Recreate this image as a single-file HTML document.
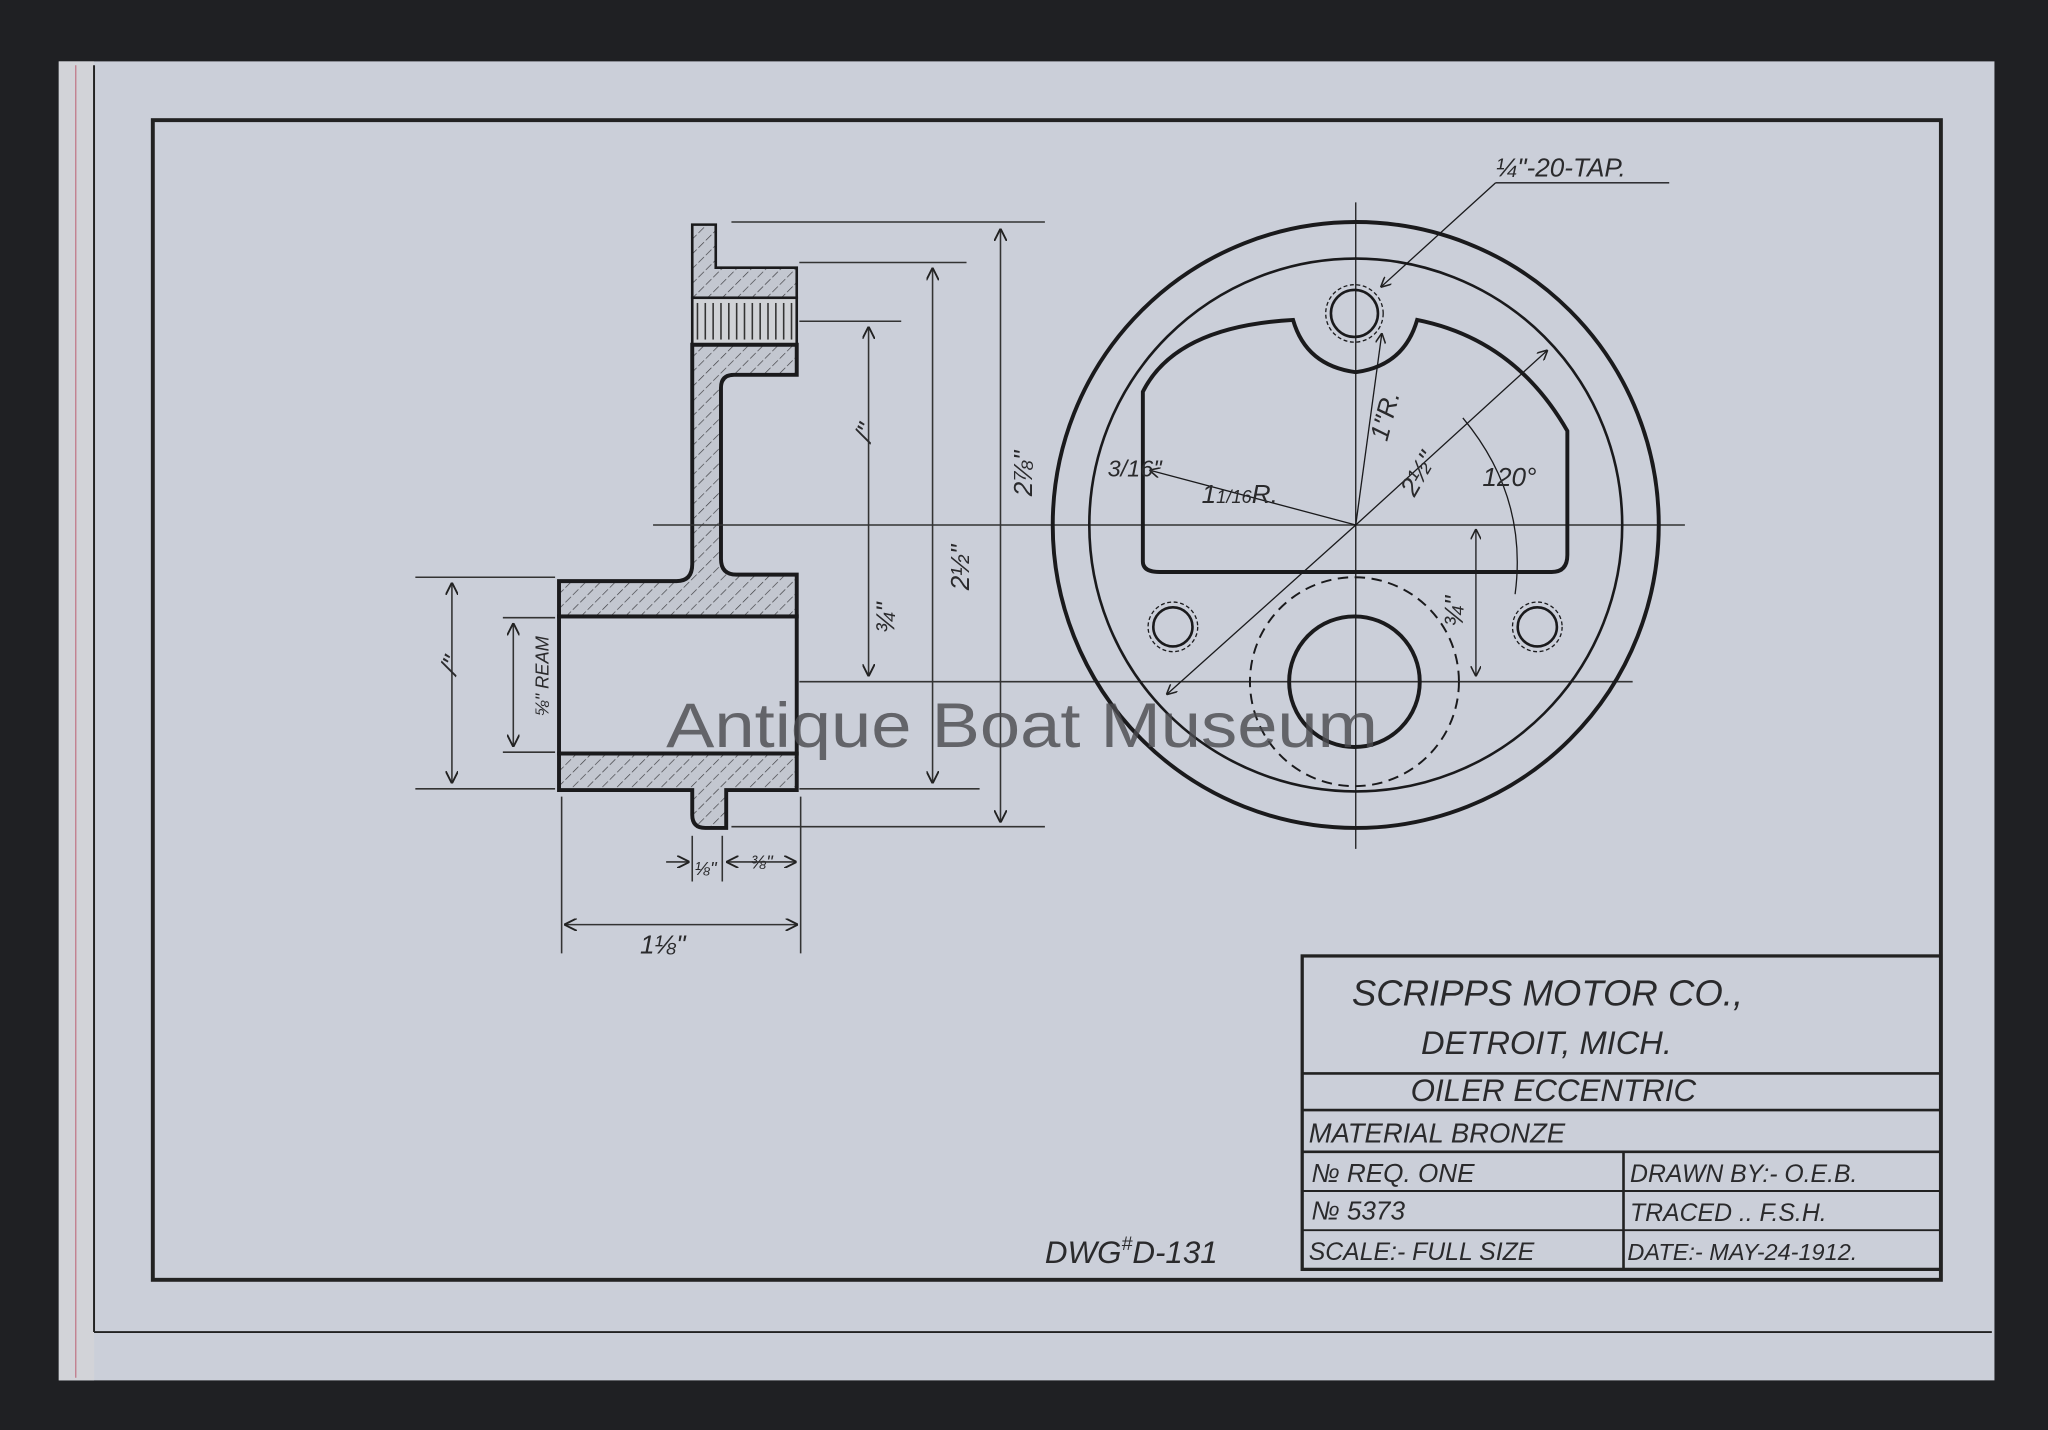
<!DOCTYPE html>
<html><head><meta charset="utf-8"><style>
html,body{margin:0;padding:0;background:#1f2023;}
svg{display:block}
text{font-family:"Liberation Sans",sans-serif;font-style:italic;fill:#2a2a2c}
</style></head><body>
<svg width="2048" height="1430" viewBox="0 0 1568 1095" preserveAspectRatio="none" xmlns="http://www.w3.org/2000/svg">
<defs>
<pattern id="h" width="8" height="8" patternUnits="userSpaceOnUse" patternTransform="rotate(45)">
<rect width="8" height="8" fill="#c3c7d0"/><line x1="0" y1="0" x2="0" y2="8" stroke="#3a3a3e" stroke-width="1" stroke-dasharray="4 2"/></pattern>
<marker id="a" viewBox="0 0 10 10" refX="10" refY="5" markerWidth="8" markerHeight="8" orient="auto-start-reverse"><path d="M0,0 L10,5 L0,10" fill="none" stroke="#222" stroke-width="1.5"/></marker>
</defs>
<rect width="1568" height="1095" fill="#1f2023"/>
<rect x="45" y="47" width="1482" height="1010" fill="#cbcfd9"/>
<rect x="45" y="47" width="27" height="1010" fill="#d2d3d8"/>
<line x1="58" y1="50" x2="58" y2="1055" stroke="#c07a8a" stroke-width="1"/>
<g stroke="#222" fill="none">
<line x1="72" y1="50" x2="72" y2="1020" stroke-width="1.5"/>
<line x1="72" y1="1020" x2="1525" y2="1020" stroke-width="1.5"/>
<rect x="117" y="92" width="1369" height="888" stroke-width="3"/>
<rect x="997" y="732" width="489" height="240" stroke-width="2.5"/>
<line x1="997" y1="822" x2="1486" y2="822" stroke-width="2"/>
<line x1="997" y1="850" x2="1486" y2="850" stroke-width="2"/>
<line x1="997" y1="882" x2="1486" y2="882" stroke-width="2"/>
<line x1="997" y1="912" x2="1486" y2="912" stroke-width="1.5"/>
<line x1="997" y1="942" x2="1486" y2="942" stroke-width="1.5"/>
<line x1="1243" y1="882" x2="1243" y2="972" stroke-width="2"/>
</g>
<g font-size="24">
<text x="1035" y="770" font-size="28">SCRIPPS MOTOR CO.,</text>
<text x="1088" y="807" font-size="25">DETROIT, MICH.</text>
<text x="1080" y="843">OILER ECCENTRIC</text>
<text x="1002" y="875" font-size="21">MATERIAL  BRONZE</text>
<text x="1004" y="905" font-size="20">№ REQ.  ONE</text>
<text x="1004" y="934" font-size="20">№  5373</text>
<text x="1002" y="965" font-size="19">SCALE:- FULL SIZE</text>
<text x="1248" y="905" font-size="19">DRAWN BY:- O.E.B.</text>
<text x="1248" y="935" font-size="19">TRACED ..  F.S.H.</text>
<text x="1246" y="965" font-size="18">DATE:- MAY-24-1912.</text>
<text x="800" y="967" font-size="24">DWG<tspan font-size="15" dy="-10">#</tspan><tspan dy="10">D-131</tspan></text>
</g>
<g stroke="#1a1a1c" stroke-width="3">
<path d="M530,172 L548,172 L548,205 L610,205 L610,228 L530,228 Z" fill="url(#h)" stroke-width="2"/>
<rect x="530" y="228" width="80" height="36" fill="#d0d2d6" stroke-width="2"/>
<path d="M530,264 L610,264 L610,287 L562,287 Q552,287 552,297 L552,428 Q552,440 564,440 L610,440 L610,472 L428,472 L428,445 L518,445 Q530,445 530,432 Z" fill="url(#h)"/>
<path d="M428,577 L610,577 L610,605 L556,605 L556,634 L540,634 Q530,634 530,624 L530,605 L428,605 Z" fill="url(#h)"/>
<rect x="428" y="472" width="182" height="105" fill="none"/>
</g>
<g stroke="#333" stroke-width="1.2">
<line x1="534" y1="232" x2="534" y2="260"/><line x1="540" y1="232" x2="540" y2="260"/><line x1="546" y1="232" x2="546" y2="260"/><line x1="552" y1="232" x2="552" y2="260"/><line x1="558" y1="232" x2="558" y2="260"/><line x1="564" y1="232" x2="564" y2="260"/><line x1="570" y1="232" x2="570" y2="260"/><line x1="576" y1="232" x2="576" y2="260"/><line x1="582" y1="232" x2="582" y2="260"/><line x1="588" y1="232" x2="588" y2="260"/><line x1="594" y1="232" x2="594" y2="260"/><line x1="600" y1="232" x2="600" y2="260"/><line x1="606" y1="232" x2="606" y2="260"/>
</g>
<g stroke="#333" stroke-width="1.2" fill="none">
<line x1="560" y1="170" x2="800" y2="170"/>
<line x1="612" y1="201" x2="740" y2="201"/>
<line x1="612" y1="246" x2="690" y2="246"/>
<line x1="500" y1="402" x2="1290" y2="402"/>
<line x1="612" y1="522" x2="1250" y2="522"/>
<line x1="612" y1="604" x2="750" y2="604"/>
<line x1="560" y1="633" x2="800" y2="633"/>
<line x1="318" y1="442" x2="425" y2="442"/>
<line x1="318" y1="604" x2="425" y2="604"/>
<line x1="385" y1="473" x2="425" y2="473"/>
<line x1="385" y1="576" x2="425" y2="576"/>
<line x1="766" y1="175" x2="766" y2="630" marker-start="url(#a)" marker-end="url(#a)"/>
<line x1="714" y1="205" x2="714" y2="600" marker-start="url(#a)" marker-end="url(#a)"/>
<line x1="665" y1="250" x2="665" y2="518" marker-start="url(#a)" marker-end="url(#a)"/>
<line x1="346" y1="446" x2="346" y2="600" marker-start="url(#a)" marker-end="url(#a)"/>
<line x1="393" y1="477" x2="393" y2="572" marker-start="url(#a)" marker-end="url(#a)"/>
<line x1="430" y1="610" x2="430" y2="730"/>
<line x1="613" y1="610" x2="613" y2="730"/>
<line x1="432" y1="708" x2="611" y2="708" marker-start="url(#a)" marker-end="url(#a)"/>
<line x1="530" y1="640" x2="530" y2="675"/><line x1="553" y1="640" x2="553" y2="675"/>
<line x1="510" y1="660" x2="528" y2="660" marker-end="url(#a)"/><line x1="556" y1="660" x2="610" y2="660" marker-start="url(#a)" marker-end="url(#a)"/>
</g>
<g font-size="20">
<text x="750" y="380" transform="rotate(-90 770 360)">2⅞"</text>
<text x="710" y="460" transform="rotate(-90 722 440)">2½"</text>
<text x="660" y="330" transform="rotate(-70 670 330)">/"</text>
<text x="650" y="490" transform="rotate(-90 665 470)">¾"</text>
<text x="330" y="510" transform="rotate(-70 345 500)">/"</text>
<text x="372" y="560" font-size="14" transform="rotate(-90 390 530)">⅝" REAM</text>
<text x="490" y="730">1⅛"</text>
<text x="532" y="670" font-size="14">⅛"</text>
<text x="575" y="665" font-size="14">⅜"</text>
</g>
<g fill="none" stroke="#1a1a1c">
<circle cx="1038" cy="402" r="232" stroke-width="3"/>
<circle cx="1038" cy="402" r="204" stroke-width="2"/>
<path d="M875,430 L875,300 Q900,250 990,245 Q1000,280 1038,285 Q1075,280 1085,245 Q1160,260 1200,330 L1200,425 Q1200,438 1188,438 L888,438 Q875,438 875,430 Z" stroke-width="3"/>
<circle cx="1037" cy="240" r="18" stroke-width="2"/><circle cx="1037" cy="240" r="22" stroke-width="1" stroke-dasharray="3 2"/>
<circle cx="898" cy="480" r="15" stroke-width="2"/><circle cx="898" cy="480" r="19" stroke-width="1" stroke-dasharray="3 2"/>
<circle cx="1177" cy="480" r="15" stroke-width="2"/><circle cx="1177" cy="480" r="19" stroke-width="1" stroke-dasharray="3 2"/>
<circle cx="1037" cy="522" r="50" stroke-width="3"/>
<circle cx="1037" cy="522" r="80" stroke-width="1.5" stroke-dasharray="8 5"/>
<line x1="1038" y1="155" x2="1038" y2="650" stroke-width="1"/>
<line x1="1038" y1="402" x2="1185" y2="268" stroke-width="1" marker-end="url(#a)"/>
<line x1="1038" y1="402" x2="893" y2="532" stroke-width="1" marker-end="url(#a)"/>
<line x1="1038" y1="402" x2="880" y2="360" stroke-width="1" marker-end="url(#a)"/>
<line x1="1038" y1="402" x2="1058" y2="255" stroke-width="1" marker-end="url(#a)"/>
<line x1="1130" y1="405" x2="1130" y2="518" stroke-width="1" marker-start="url(#a)" marker-end="url(#a)"/>
<line x1="1145" y1="140" x2="1057" y2="220" stroke-width="1" marker-end="url(#a)"/>
<line x1="1145" y1="140" x2="1278" y2="140" stroke-width="1"/>
<path d="M1120,320 Q1170,380 1160,455" stroke-width="1"/>
</g>
<g font-size="20">
<text x="1145" y="135" font-size="20">¼"-20-TAP.</text>
<text x="848" y="365" font-size="18">3/16"</text>
<text x="920" y="385">1<tspan font-size="14">1/16</tspan>R.</text>
<text x="1040" y="340" transform="rotate(-75 1050 325)">1"R.</text>
<text x="1065" y="380" transform="rotate(-60 1075 365)">2½"</text>
<text x="1135" y="372">120°</text>
<text x="1100" y="470" transform="rotate(-90 1115 465)">¾"</text>
</g>
<text x="510" y="572" font-size="48" textLength="545" lengthAdjust="spacingAndGlyphs" style="font-style:normal;fill:#4a4a4e;opacity:0.8">Antique Boat Museum</text>
</svg>
</body></html>
